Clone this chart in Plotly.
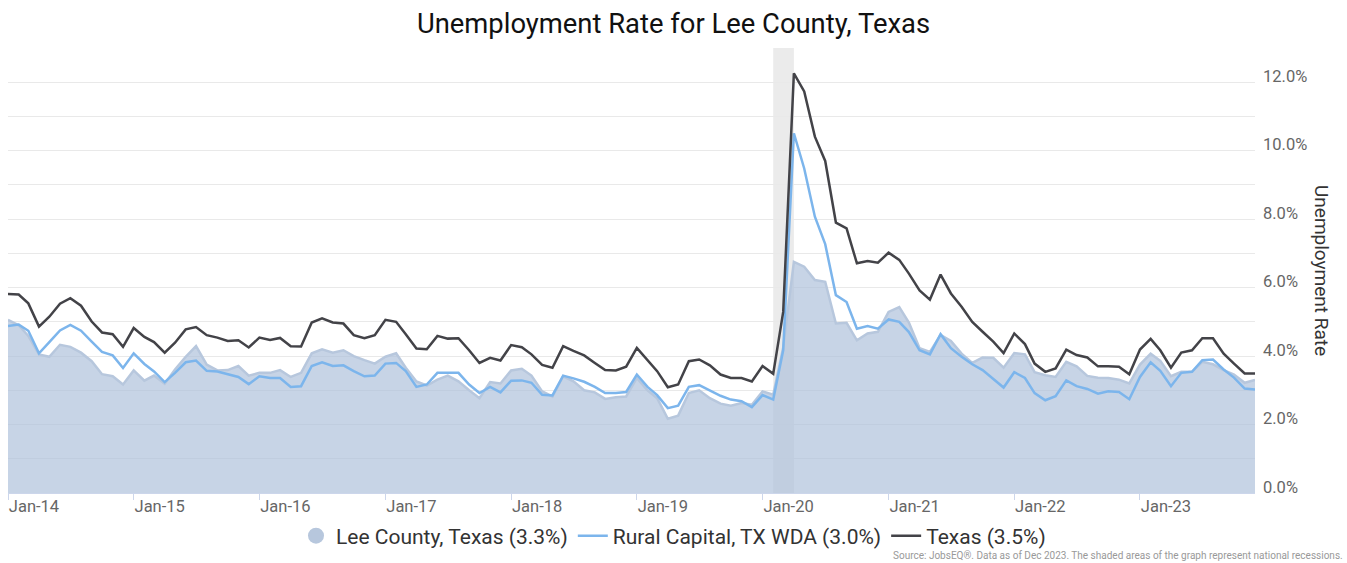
import pandas as pd
import plotly.graph_objects as go

months = pd.date_range("2014-01-01", periods=120, freq="MS")

lee_county = [
    5.06, 4.90, 4.59, 4.05, 3.98, 4.33, 4.27, 4.10, 3.85, 3.47, 3.41, 3.17,
    3.58, 3.28, 3.43, 3.19, 3.61, 3.98, 4.29, 3.75, 3.58, 3.59, 3.71, 3.43,
    3.51, 3.51, 3.59, 3.39, 3.51, 4.08, 4.20, 4.10, 4.17, 4.00, 3.88, 3.78,
    3.98, 4.08, 3.66, 3.26, 3.14, 3.31, 3.43, 3.26, 3.00, 2.77, 3.24, 3.20,
    3.58, 3.63, 3.43, 2.97, 2.82, 3.41, 3.26, 3.00, 2.94, 2.75, 2.80, 2.82,
    3.36, 3.00, 2.77, 2.17, 2.26, 2.92, 3.00, 2.77, 2.61, 2.55, 2.63, 2.58,
    2.97, 2.87, 4.25, 6.75, 6.61, 6.22, 6.17, 4.95, 4.97, 4.46, 4.66, 4.71,
    5.29, 5.43, 4.98, 4.23, 4.12, 4.62, 4.44, 4.07, 3.80, 3.96, 3.95, 3.66,
    4.09, 4.05, 3.53, 3.44, 3.39, 3.83, 3.70, 3.42, 3.37, 3.36, 3.31, 3.20,
    3.75, 4.07, 3.86, 3.41, 3.54, 3.54, 3.83, 3.76, 3.59, 3.46, 3.22, 3.30,
]

rural_capital = [
    4.88, 4.92, 4.74, 4.08, 4.41, 4.75, 4.91, 4.74, 4.42, 4.12, 4.02, 3.65,
    4.08, 3.77, 3.55, 3.24, 3.51, 3.82, 3.87, 3.57, 3.55, 3.47, 3.39, 3.18,
    3.41, 3.36, 3.36, 3.10, 3.12, 3.71, 3.82, 3.71, 3.73, 3.56, 3.41, 3.43,
    3.78, 3.80, 3.56, 3.10, 3.17, 3.51, 3.51, 3.51, 3.17, 2.92, 3.10, 2.94,
    3.28, 3.29, 3.22, 2.87, 2.85, 3.43, 3.35, 3.25, 3.10, 2.92, 2.92, 2.95,
    3.46, 3.10, 2.86, 2.48, 2.55, 3.10, 3.15, 3.00, 2.84, 2.73, 2.68, 2.51,
    2.86, 2.73, 4.17, 10.51, 9.48, 8.07, 7.27, 5.78, 5.58, 4.80, 4.88, 4.80,
    5.07, 5.00, 4.70, 4.17, 4.05, 4.64, 4.23, 3.98, 3.76, 3.59, 3.34, 3.08,
    3.53, 3.36, 2.92, 2.71, 2.83, 3.29, 3.12, 3.04, 2.90, 2.97, 2.95, 2.74,
    3.39, 3.82, 3.57, 3.12, 3.51, 3.54, 3.88, 3.90, 3.61, 3.37, 3.05, 3.02,
]

texas = [
    5.81, 5.80, 5.54, 4.86, 5.15, 5.53, 5.69, 5.47, 5.01, 4.69, 4.64, 4.27,
    4.82, 4.56, 4.41, 4.10, 4.39, 4.78, 4.85, 4.61, 4.54, 4.44, 4.46, 4.25,
    4.54, 4.47, 4.53, 4.29, 4.28, 4.98, 5.10, 4.98, 4.95, 4.61, 4.52, 4.61,
    5.06, 5.00, 4.64, 4.22, 4.20, 4.59, 4.51, 4.52, 4.17, 3.80, 3.95, 3.87,
    4.32, 4.26, 4.05, 3.74, 3.66, 4.29, 4.15, 4.02, 3.80, 3.59, 3.58, 3.69,
    4.24, 3.88, 3.56, 3.09, 3.17, 3.85, 3.90, 3.73, 3.46, 3.36, 3.36, 3.26,
    3.71, 3.48, 5.29, 12.26, 11.73, 10.41, 9.70, 7.90, 7.73, 6.71, 6.78, 6.73,
    7.02, 6.81, 6.41, 5.92, 5.65, 6.38, 5.83, 5.44, 5.00, 4.71, 4.42, 4.09,
    4.66, 4.35, 3.78, 3.54, 3.64, 4.19, 4.03, 3.96, 3.70, 3.70, 3.69, 3.47,
    4.19, 4.50, 4.17, 3.66, 4.10, 4.17, 4.52, 4.52, 4.07, 3.78, 3.49, 3.49,
]

series_names = ["Lee County, Texas (3.3%)", "Rural Capital, TX WDA (3.0%)", "Texas (3.5%)"]
y_tick_values = [0, 2, 4, 6, 8, 10, 12]
y_tick_labels = ["0.0%", "2.0%", "4.0%", "6.0%", "8.0%", "10.0%", "12.0%"]
recession_start = "2020-02-01"
recession_end = "2020-04-01"

W, H = 1347, 563
L, R, T, B = 8, 92, 48, 70
PW, PH = W - L - R, H - T - B

fig = go.Figure()

fig.add_trace(go.Scatter(
    x=months, y=lee_county, mode="lines", fill="tozeroy",
    fillcolor="rgba(172,192,218,0.68)",
    line=dict(color="rgb(183,199,221)", width=2.5),
    name=series_names[0], showlegend=False,
))
fig.add_trace(go.Scatter(
    x=[None], y=[None], mode="markers",
    marker=dict(symbol="circle", size=22, color="rgb(183,199,221)"),
    name=series_names[0],
))
fig.add_trace(go.Scatter(
    x=months, y=rural_capital, mode="lines",
    line=dict(color="#7cb5ec", width=2.5),
    name=series_names[1],
))
fig.add_trace(go.Scatter(
    x=months, y=texas, mode="lines",
    line=dict(color="#434348", width=2.5),
    name=series_names[2],
))

fig.add_shape(
    type="rect", xref="x", yref="paper",
    x0=recession_start, x1=recession_end, y0=0, y1=1,
    fillcolor="#ebebeb", line=dict(width=0), layer="below",
)

fig.update_layout(
    width=W, height=H,
    margin=dict(l=L, r=R, t=T, b=B, autoexpand=False),
    paper_bgcolor="white", plot_bgcolor="white",
    font=dict(family="Roboto", color="#333333"),
    title=dict(
        text="Unemployment Rate for Lee County, Texas",
        x=0.5, xref="container", xanchor="center",
        y=1 - 23 / H, yref="container", yanchor="middle",
        font=dict(size=27.4, color="#111111", family="Roboto"),
    ),
    legend=dict(
        orientation="h", xref="container", yref="container",
        x=0.5, xanchor="center", y=1 - 536 / H, yanchor="middle",
        font=dict(size=21, color="#333333"),
        bgcolor="rgba(0,0,0,0)",
        itemwidth=30, tracegroupgap=0,
    ),
    showlegend=True,
    xaxis=dict(
        type="date", automargin=False,
        range=["2014-01-01", "2023-12-01"],
        tickvals=pd.date_range("2014-01-01", "2023-01-01", freq="YS"),
        tickformat="%b-%y",
        ticks="outside", ticklen=6, tickcolor="#ccd6eb", tickwidth=1,
        showline=True, linecolor="#ccd6eb", linewidth=1,
        showgrid=False, zeroline=False,
        tickfont=dict(size=16.5, color="#666666"),
        ticklabelshift=26,
        ticklabelstandoff=-8,
    ),
    yaxis=dict(
        side="right", automargin=False,
        range=[0, 13],
        tickvals=y_tick_values, ticktext=y_tick_labels,
        showgrid=True, gridcolor="#e9e9e9", gridwidth=1,
        minor=dict(dtick=1, showgrid=True, gridcolor="#e9e9e9", gridwidth=1),
        zeroline=False, showline=False,
        tickfont=dict(size=16.5, color="#666666"),
        ticklabelshift=-6,
        ticklabelstandoff=7,
    ),
    annotations=[
        dict(
            text="Unemployment Rate", textangle=90,
            xref="paper", yref="paper", x=(1322 - L) / PW, y=(H - B - 270) / PH,
            xanchor="center", yanchor="middle", showarrow=False,
            font=dict(size=19, color="#333333"),
        ),
        dict(
            text="Source: JobsEQ®. Data as of Dec 2023. The shaded areas of the graph represent national recessions.",
            xref="paper", yref="paper", x=(1345 - L) / PW, y=(H - B - 555) / PH,
            xanchor="right", yanchor="middle", showarrow=False,
            font=dict(size=10, color="#999999"),
        ),
    ],
)

fig.write_html(
    "out.html",
    config={"displayModeBar": False},
    post_script="document.body.style.margin='0';document.body.style.overflow='hidden';",
)
